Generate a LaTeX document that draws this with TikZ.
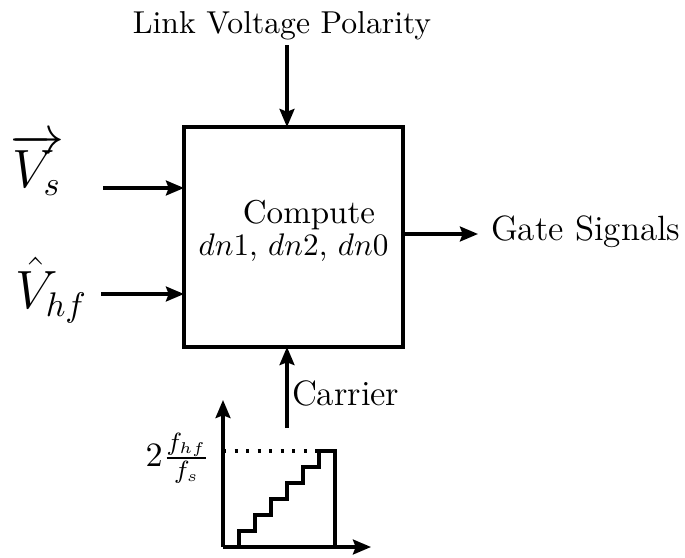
\documentclass[tikz,border=0pt]{standalone}
\usetikzlibrary{arrows.meta}
\begin{document}
\begin{tikzpicture}[x=0.3205pt, y=-0.3205pt,
  arr/.style={line width=1pt, -{Stealth[length=5.8pt,width=4.8pt,inset=0.9pt]}},
  txt/.style={inner sep=0pt, outer sep=0pt},
  blockbox/.style={draw, line width=1pt, minimum width=70.2pt, minimum height=70.5pt, inner sep=0pt, outer sep=0pt},
  plotline/.style={line width=1pt}]
\useasboundingbox (0,0) rectangle (685,557);

% central block
\node[blockbox] (blk) at (293.5,237) {};
\node[txt, anchor=base, font=\fontsize{10.6}{12}\selectfont] (cmp) at (309,223) {Compute};
\node[txt, anchor=base] (dn) at (293.5,255) {$dn1$, $dn2$, $dn0$};

% inputs and outputs
\node[txt, anchor=base, font=\fontsize{10.15}{12}\selectfont] (lvp) at (282,33) {Link Voltage Polarity};
\coordinate (topin) at (287,45);
\draw[arr] (topin) -- (topin |- blk.north);

\node[txt, anchor=base west, font=\fontsize{16}{19}\selectfont] (vs) at (10,187) {$\overrightarrow{V_s}$};
\coordinate (vsin) at (103,188);
\draw[arr] (vsin) -- (vsin -| blk.west);

\node[txt, anchor=base west, font=\fontsize{16}{19}\selectfont] (vhf) at (15,308) {$\hat{V}_{hf}$};
\coordinate (vhfin) at (101,294);
\draw[arr] (vhfin) -- (vhfin -| blk.west);

\node[txt, anchor=base west, font=\fontsize{11.25}{13}\selectfont] (gs) at (491,240) {Gate Signals};
\coordinate (gsin) at (478,234);
\draw[arr] (gsin -| blk.east) -- (gsin);

\node[txt, anchor=base west, font=\fontsize{11.3}{13}\selectfont] (car) at (292,405) {Carrier};
\coordinate (carin) at (287,428);
\draw[arr] (carin) -- (carin |- blk.south);

% staircase carrier plot
\coordinate (org) at (223,547);
\coordinate (yend) at (223,400);
\coordinate (xend) at (371,547);
\draw[arr] (org) -- (yend);
\draw[arr] (org) -- (xend);
\draw[plotline] (239,547) -- (239,531) -- (255,531) -- (255,515) -- (271,515)
  -- (271,499) -- (287,499) -- (287,483) -- (303,483) -- (303,467) -- (319,467)
  -- (319,451) -- (335,451) -- (335,547);
\coordinate (peak) at (319,451);
\draw[line width=1pt, dash pattern=on 1pt off 2.7pt] (org |- peak) -- (peak);
\node[txt, anchor=east, font=\fontsize{11}{13}\selectfont] (lvl) at (210,458) {$2\frac{f_{hf}}{f_s}$};
\end{tikzpicture}
\end{document}
